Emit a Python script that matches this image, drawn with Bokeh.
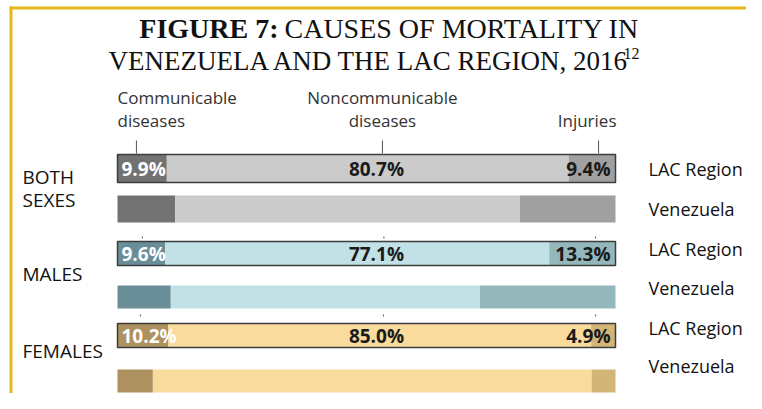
from bokeh.plotting import figure
from bokeh.models import Range1d, ColumnDataSource
from bokeh.core.properties import value
from bokeh.embed import file_html
from bokeh.resources import INLINE

# ---------------- data ----------------
groups = ["BOTH SEXES", "MALES", "FEMALES"]
causes = ["Communicable diseases", "Noncommunicable diseases", "Injuries"]
lac_comm = [9.9, 9.6, 10.2]
lac_ncd = [80.7, 77.1, 85.0]
lac_inj = [9.4, 13.3, 4.9]
ven_comm = [11.6, 10.7, 7.1]
ven_ncd = [69.2, 62.1, 88.1]
ven_inj = [19.2, 27.2, 4.8]
row_names = ["LAC Region", "Venezuela"]

# colours per group: (communicable, noncommunicable, injuries)
palette = [
    ("#727272", "#cbcbcb", "#a0a0a0"),
    ("#6a8e98", "#c1e1e6", "#94b7bc"),
    ("#ad915e", "#f8db9d", "#d3b577"),
]

# ---------------- layout (pixel helpers) ----------------
W, H = 746, 393
PX0, PX100 = 117.0, 615.0           # x pixel of 0% and 100%
SCALE = (PX100 - PX0) / 100.0


def px(xpix):
    return (xpix - PX0) / SCALE


lac_y = [168, 253, 335]
lac_h = [28, 24, 24]
ven_y = [208.5, 296.5, 380.5]
ven_h = [27, 23, 23]
right_label_y = [168, 208, 248, 287, 327, 365]

p = figure(width=W, height=H, output_backend="svg", toolbar_location=None,
           x_range=Range1d(px(0), px(W)), y_range=Range1d(H, 0),
           x_axis_location=None, y_axis_location=None, min_border=0)
p.grid.visible = False
p.outline_line_color = None
p.background_fill_color = "white"
p.border_fill_color = "white"

FONT = value("Open Sans")

# yellow frame
gold = "#e6b914"
p.quad(left=px(9), right=px(W), top=6, bottom=9, fill_color=gold, line_color=None)
p.quad(left=px(9), right=px(12), top=6, bottom=H, fill_color=gold, line_color=None)

# stacked bars
for i in range(3):
    for vals, yc, h, outline in ((
            (lac_comm[i], lac_ncd[i], lac_inj[i]), lac_y[i], lac_h[i], True),
            ((ven_comm[i], ven_ncd[i], ven_inj[i]), ven_y[i], ven_h[i], False)):
        total = sum(vals)
        lefts, rights = [], []
        acc = 0.0
        for v in vals:
            lefts.append(acc / total * 100)
            acc += v
            rights.append(acc / total * 100)
        src = ColumnDataSource(dict(y=[yc] * 3, left=lefts, right=rights,
                                    color=list(palette[i])))
        p.hbar(y="y", left="left", right="right", height=h, fill_color="color",
               line_color=None, source=src)
        if outline:
            p.hbar(y=[yc], left=[0], right=[100], height=h, fill_color=None,
                   line_color="#3c3c3c", line_width=1.5)

    # labels inside LAC bars
    pct = dict(text_font=FONT, text_font_size="19px", text_font_style="bold",
               text_baseline="middle")
    p.text(x=[0], y=[lac_y[i]], text=[f"{lac_comm[i]:.1f}%"], x_offset=4,
           text_color="white", text_align="left", **pct)
    p.text(x=[52], y=[lac_y[i]], text=[f"{lac_ncd[i]:.1f}%"],
           text_color="#1a1a1a", text_align="center", **pct)
    p.text(x=[100], y=[lac_y[i]], text=[f"{lac_inj[i]:.1f}%"], x_offset=-5,
           text_color="#1a1a1a", text_align="right", **pct)

# header category labels
hdr = dict(text_font=FONT, text_font_size="17px", text_color="#333333",
           text_baseline="middle")
p.text(x=[0, 0], y=[97, 120], text=["Communicable", "diseases"], text_align="left", **hdr)
p.text(x=[53.2, 53.2], y=[97, 120], text=["Noncommunicable", "diseases"], text_align="center", **hdr)
p.text(x=[100.2], y=[120], text=["Injuries"], text_align="right", **hdr)

# pointer ticks
tick_x = [3.8, 53.2, 96.6]
p.segment(x0=tick_x, x1=tick_x, y0=[140] * 3, y1=[153] * 3, line_color="#555555", line_width=1)
dot_x = [5.0, 53.5, 96.0]
p.segment(x0=dot_x, x1=dot_x, y0=[236] * 3, y1=[238] * 3, line_color="#555555", line_width=1)
dot_x2 = [4.6, 53.4, 96.0]
p.segment(x0=dot_x2, x1=dot_x2, y0=[314] * 3, y1=[316] * 3, line_color="#555555", line_width=1)

# left group labels
lab = dict(text_font=FONT, text_font_size="19px", text_color="#111111",
           text_align="left", text_baseline="middle")
p.text(x=[px(22)] * 4, y=[176, 199, 273, 350], text=["BOTH", "SEXES", "MALES", "FEMALES"], **lab)

# right row labels
rl = dict(text_font=FONT, text_font_size="18px", text_color="#111111",
          text_align="left", text_baseline="middle")
p.text(x=[px(648)] * 6, y=right_label_y, text=row_names * 3, **rl)

# title
TF = value("Liberation Serif")
p.text(x=[px(278)], y=[28], text=["FIGURE 7:"], text_font=TF, text_font_size="28px",
       text_font_style="bold", text_align="right", text_baseline="alphabetic", text_color="#111111")
p.text(x=[px(284)], y=[28], text=["CAUSES OF MORTALITY IN"], text_font=TF, text_font_size="28px",
       text_align="left", text_baseline="alphabetic", text_color="#111111")
p.text(x=[px(630)], y=[60], text=["VENEZUELA AND THE LAC REGION, 2016"], text_font=TF,
       text_font_size="27px", text_align="right", text_baseline="alphabetic", text_color="#111111")
p.text(x=[px(623)], y=[53], text=["12"], text_font=TF, text_font_size="16px",
       text_align="left", text_baseline="alphabetic", text_color="#111111")

open("out.html", "w").write(file_html(p, INLINE))
